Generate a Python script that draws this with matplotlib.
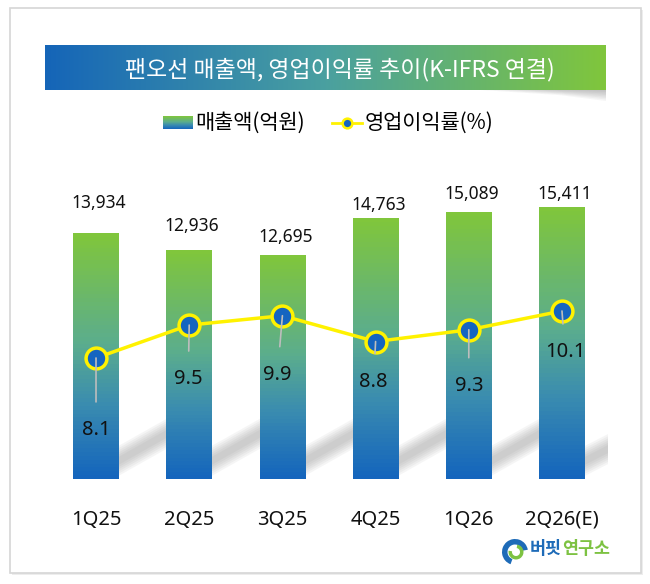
import numpy as np
import matplotlib
matplotlib.use('Agg')
import matplotlib.pyplot as plt
from matplotlib.colors import LinearSegmentedColormap
from matplotlib.patches import Rectangle, Polygon, Wedge

# chart data
quarters = ['1Q25', '2Q25', '3Q25', '4Q25', '1Q26', '2Q26(E)']
revenue = [13934, 12936, 12695, 14763, 15089, 15411]      # 매출액(억원)
op_margin = [8.1, 9.5, 9.9, 8.8, 9.3, 10.1]               # 영업이익률(%)

title = '팬오선 매출액, 영업이익률 추이(K-IFRS 연결)'
legend_bar = '매출액(억원)'
legend_line = '영업이익률(%)'

# label placement (pixels)
rev_gap = [30, 25, 18, 14, 19, 13]
pct_dy = [72, 54, 59, 40, 56, 41]
pct_dx = [0, -1, -5, -2, 0, 3]

W, H = 650, 584
KR = ['Noto Sans CJK KR', 'DejaVu Sans']
NUM = ['Noto Sans', 'DejaVu Sans']

bar_cmap = LinearSegmentedColormap.from_list(
    'bar', [(0, '#1565BD'), (0.3, '#3A8CB0'), (0.55, '#5BAD8E'), (1, '#80C63C')])
ban_cmap = LinearSegmentedColormap.from_list(
    'ban', ['#1565B8', '#4AA0A0', '#80C63C'])


def px_rect(x0, y0, x1, y1):
    return [x0 / W, 1 - y1 / H, (x1 - x0) / W, (y1 - y0) / H]


fig = plt.figure(figsize=(W / 100, H / 100), dpi=100)
fig.patch.set_facecolor('white')

# background layer in pixel coordinates
bg = fig.add_axes([0, 0, 1, 1], zorder=0)
bg.set_xlim(0, W)
bg.set_ylim(H, 0)
bg.axis('off')

# outer frame with soft shadow
bg.add_patch(Rectangle((12, 10), 631, 565, fc='#EDEDED', ec='none'))
bg.add_patch(Rectangle((10, 8), 631, 565, fc='white', ec='#D6D6D6', lw=1.2))

# title banner + curl shadow
for k in range(8):
    t = 13 - k * 1.5
    bg.add_patch(Polygon([(450 + k * 12, 88), (606, 88), (606, 88 + t),
                          (560, 88 + t * 0.55)], fc='#505050', ec='none', alpha=0.05))
gx = np.linspace(0, 1, 256).reshape(1, -1)
bg.imshow(gx, cmap=ban_cmap, extent=(45, 606, 90, 45), aspect='auto', zorder=2)
bg.text(340, 70, title, color='white', fontsize=16.5, ha='center', va='center',
        family=KR, zorder=3)

# legend
gy = np.linspace(1, 0, 64).reshape(-1, 1)
bg.imshow(gy, cmap=bar_cmap, extent=(163, 193, 129, 116), aspect='auto', zorder=2)
bg.text(195, 123, legend_bar, fontsize=15, ha='left', va='center', family=KR)
bg.plot([332, 362], [123, 123], color='#FFF200', lw=2, zorder=2)
bg.plot([347], [123], 'o', ms=7, mfc='#1565C0', mec='#FFF200', mew=1.8, zorder=3)
bg.text(365, 123, legend_line, fontsize=15, ha='left', va='center', family=KR)

# logo
bg.add_patch(Wedge((515, 552), 13, 110, 350, width=5.5, fc='#1E6BB8', ec='none'))
bg.add_patch(Wedge((516, 552), 7.5, -80, 190, width=3.5, fc='#7DC242', ec='none'))
t1 = bg.text(530, 549, '버핏', color='#1E6BB8', fontsize=12.5, fontweight='bold',
             ha='left', va='center', family=KR)
renderer = fig.canvas.get_renderer()
x_end = t1.get_window_extent(renderer).x1
bg.text(x_end, 549, '연구소', color='#7DC242', fontsize=12.5, fontweight='bold',
        ha='left', va='center', family=KR)

# main chart
ax = fig.add_axes(px_rect(40.1, 170, 617.9, 479), zorder=1)
ax.patch.set_alpha(0)
x = np.arange(len(quarters))
bw = 0.49

bars = ax.bar(x, revenue, width=bw, color='none', edgecolor='none')
for b in bars:
    x0, y0 = b.get_x(), b.get_y()
    ax.imshow(gy, cmap=bar_cmap, extent=(x0, x0 + b.get_width(), y0, y0 + b.get_height()),
              aspect='auto', zorder=2)
ax.set_xlim(-0.6, len(quarters) - 0.4)
ax.set_ylim(0, 17517)

# diagonal bar shadows on the background layer
for i in x:
    bx, by = ax.transData.transform((i + bw / 2, 0))
    by = H - by
    x1 = min(bx + 62, 608)
    y1 = by - 16 - (x1 - bx) * 0.6
    for k in range(6):
        hw = 15 - 2.2 * k
        bg.add_patch(Polygon([(bx - 4, by - 16 - hw), (x1, y1 - hw),
                              (x1, y1 + hw), (bx - 4, by - 16 + hw)],
                             fc='#7A7A7A', ec='none', alpha=0.07, zorder=1))

for i, v in enumerate(revenue):
    ax.annotate(f'{v:,}', xy=(i, v), xytext=(3, rev_gap[i]), textcoords='offset pixels',
                ha='center', va='center', fontsize=12.5, family=NUM, color='#111111')

ax.set_xticks(x)
ax.set_xticklabels(quarters, fontsize=14.5, family=NUM, color='#111111')
ax.tick_params(axis='x', length=0, pad=22)
ax.set_yticks([])
for sp in ax.spines.values():
    sp.set_visible(False)

# operating margin line
ax2 = ax.twinx()
ax2.set_zorder(2)
ax2.patch.set_alpha(0)
ax2.set_ylim(2.95, 16.1)
ax2.plot(x, op_margin, color='#FFF200', lw=2.5, marker='o', ms=15,
         mfc='#1565C0', mec='#FFF200', mew=2.5, zorder=2)
for i, v in enumerate(op_margin):
    ax2.annotate(f'{v}', xy=(i, v), xytext=(pct_dx[i], -pct_dy[i]), textcoords='offset pixels',
                 ha='center', va='center', fontsize=14.5, family=NUM, color='#111111',
                 arrowprops=dict(arrowstyle='-', color='#BDBDBD', lw=1.2,
                                 shrinkA=11, shrinkB=0), zorder=4)
ax2.set_yticks([])
for sp in ax2.spines.values():
    sp.set_visible(False)

fig.savefig('out.png', dpi=100)
